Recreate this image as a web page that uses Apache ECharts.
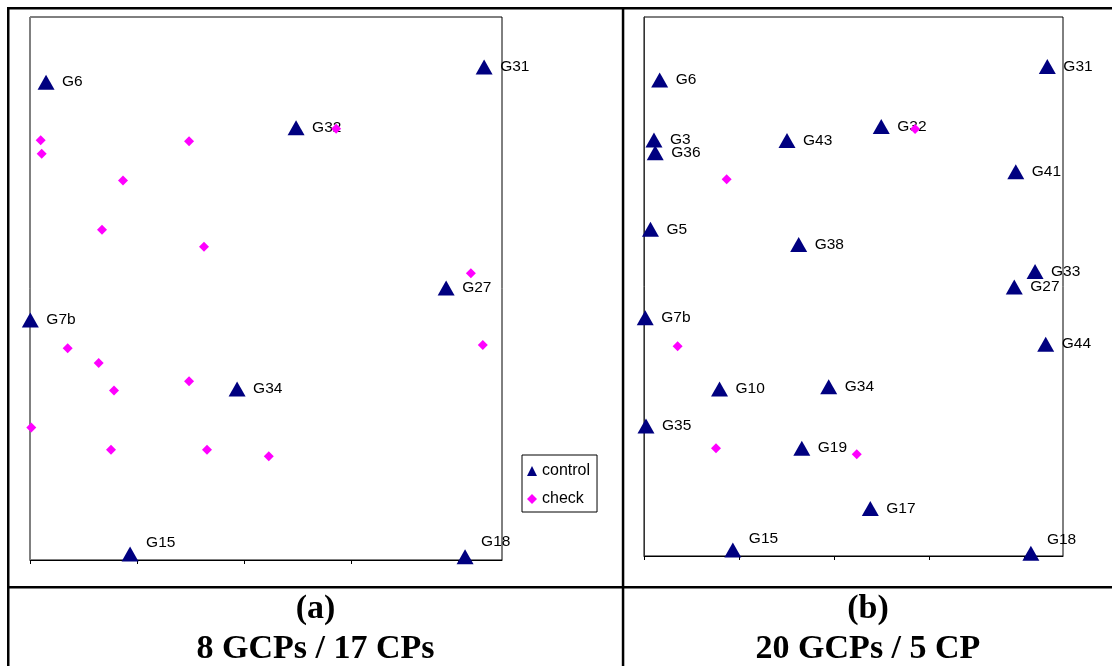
<!DOCTYPE html>
<html>
<head>
<meta charset="utf-8">
<script src="https://cdn.jsdelivr.net/npm/echarts@6/dist/echarts.min.js"></script>
<style>
  html, body { margin: 0; padding: 0; background: #fff; }
  #chart { width: 1112px; height: 666px; }
</style>
</head>
<body>
<div id="chart"></div>
<script>
// ---------------- DATA ----------------
const xTicks = [0, 1, 2, 3, 4];
const seriesNames = ['control', 'check'];

// Panel (a): 8 GCPs / 17 CPs
const aControlNames = ['G6', 'G31', 'G32', 'G27', 'G7b', 'G34', 'G15', 'G18'];
const aControlX = [0.150, 4.243, 2.486, 3.888, 0.003, 1.935, 0.935, 4.065];
const aControlY = [0.880, 0.908, 0.796, 0.501, 0.442, 0.315, 0.011, 0.006];
const aCheckX = [0.100, 0.109, 0.869, 0.673, 1.486, 1.626, 2.860, 4.119, 0.352, 0.642, 0.785, 1.486, 0.012, 0.757, 1.654, 2.231, 4.231];
const aCheckY = [0.773, 0.748, 0.699, 0.608, 0.771, 0.577, 0.794, 0.528, 0.390, 0.363, 0.312, 0.329, 0.244, 0.203, 0.203, 0.191, 0.396];

// Panel (b): 20 GCPs / 5 CP
const bControlNames = ['G6', 'G3', 'G36', 'G43', 'G5', 'G38', 'G7b', 'G31', 'G32', 'G41', 'G33', 'G27', 'G44', 'G17', 'G18', 'G10', 'G34', 'G35', 'G19', 'G15'];
const bControlX = [0.165, 0.105, 0.118, 1.505, 0.068, 1.628, 0.013, 4.245, 2.497, 3.913, 4.116, 3.897, 4.228, 2.382, 4.072, 0.795, 1.944, 0.021, 1.661, 0.935];
const bControlY = [0.883, 0.772, 0.748, 0.771, 0.606, 0.578, 0.442, 0.908, 0.797, 0.713, 0.528, 0.499, 0.393, 0.088, 0.005, 0.310, 0.314, 0.241, 0.200, 0.011];
const bCheckX = [0.870, 2.853, 0.354, 0.758, 2.239];
const bCheckY = [0.699, 0.792, 0.389, 0.200, 0.189];

const captionsA = ['(a)', '8 GCPs / 17 CPs'];
const captionsB = ['(b)', '20 GCPs / 5 CP'];

// ---------------- STYLE / LAYOUT ----------------
const NAVY = '#000080';
const MAGENTA = '#FF00FF';
const labelRaiseA = { G15: 11, G18: 15 };
const labelRaiseB = { G15: 11, G18: 14 };

function controlData(names, xs, ys, raise) {
  return names.map((n, i) => {
    const item = { name: n, value: [xs[i], ys[i]] };
    if (raise[n]) item.label = { offset: [0, -raise[n]] };
    return item;
  });
}
function checkData(xs, ys) {
  return xs.map((x, i) => [x, ys[i]]);
}

const labelStyle = {
  show: true, position: 'right', distance: 7.5, formatter: '{b}',
  fontFamily: 'Liberation Sans', fontSize: 15.5, color: '#000'
};

function mkX(idx) {
  return {
    gridIndex: idx, type: 'value', min: 0, max: 4.41, interval: 1,
    axisLine: { show: true, onZero: false, lineStyle: { color: '#000', width: 1 } },
    axisTick: { show: true, length: 4, customValues: xTicks, lineStyle: { color: '#000' } },
    axisLabel: { show: false }, splitLine: { show: false }
  };
}
function mkY(idx, col) {
  return {
    gridIndex: idx, type: 'value', min: 0, max: 1,
    axisLine: { show: true, onZero: false, lineStyle: { color: col, width: 1 } },
    axisTick: { show: false }, axisLabel: { show: false }, splitLine: { show: false }
  };
}

function controlSeries(idx, data) {
  return {
    name: seriesNames[0], type: 'scatter', xAxisIndex: idx, yAxisIndex: idx,
    symbol: 'triangle', symbolSize: [17, 15], clip: false,
    itemStyle: { color: NAVY, opacity: 1 }, label: labelStyle, data: data, z: 3
  };
}
function checkSeries(idx, data) {
  return {
    name: seriesNames[1], type: 'scatter', xAxisIndex: idx, yAxisIndex: idx,
    symbol: 'diamond', symbolSize: 10, clip: false,
    itemStyle: { color: MAGENTA, opacity: 1 }, data: data, z: 4
  };
}

function capText(x, y, t) {
  return {
    type: 'text', x: x, y: y, silent: true,
    style: {
      text: t, x: 0, y: 0, align: 'center', verticalAlign: 'middle',
      fontFamily: 'Liberation Serif', fontWeight: 'bold', fontSize: 34, fill: '#000'
    }
  };
}
function rect(x, y, w, h) {
  return { type: 'rect', silent: true, shape: { x: x, y: y, width: w, height: h }, style: { fill: '#000' } };
}

const chart = echarts.init(document.getElementById('chart'), null, { renderer: 'canvas' });
const option = {
  animation: false,
  backgroundColor: '#fff',
  grid: [
    { left: 30, top: 17, width: 472, height: 543, show: true, borderColor: '#000', borderWidth: 1, backgroundColor: 'transparent' },
    { left: 644, top: 17, width: 419, height: 539, show: true, borderColor: '#000', borderWidth: 1, backgroundColor: 'transparent' }
  ],
  xAxis: [mkX(0), mkX(1)],
  yAxis: [mkY(0, '#808080'), mkY(1, '#333')],
  legend: {
    data: seriesNames, orient: 'vertical', left: 522, top: 455,
    padding: [7, 7, 4, 5], itemGap: 10, itemWidth: 10, itemHeight: 10,
    borderColor: '#000', borderWidth: 1, borderRadius: 0, backgroundColor: '#fff',
    selectedMode: false,
    itemStyle: { opacity: 1 },
    textStyle: { fontFamily: 'Liberation Sans', fontSize: 16, color: '#000', lineHeight: 18 }
  },
  series: [
    controlSeries(0, controlData(aControlNames, aControlX, aControlY, labelRaiseA)),
    checkSeries(0, checkData(aCheckX, aCheckY)),
    controlSeries(1, controlData(bControlNames, bControlX, bControlY, labelRaiseB)),
    checkSeries(1, checkData(bCheckX, bCheckY))
  ],
  graphic: [
    rect(7, 7, 1105, 2.5),
    rect(7, 7, 2.5, 659),
    rect(621.8, 7, 2.5, 659),
    rect(7, 586, 1105, 2.5),
    capText(315.5, 609, captionsA[0]),
    capText(315.5, 649, captionsA[1]),
    capText(868, 609, captionsB[0]),
    capText(868, 649, captionsB[1])
  ]
};
chart.setOption(option);
</script>
</body>
</html>
